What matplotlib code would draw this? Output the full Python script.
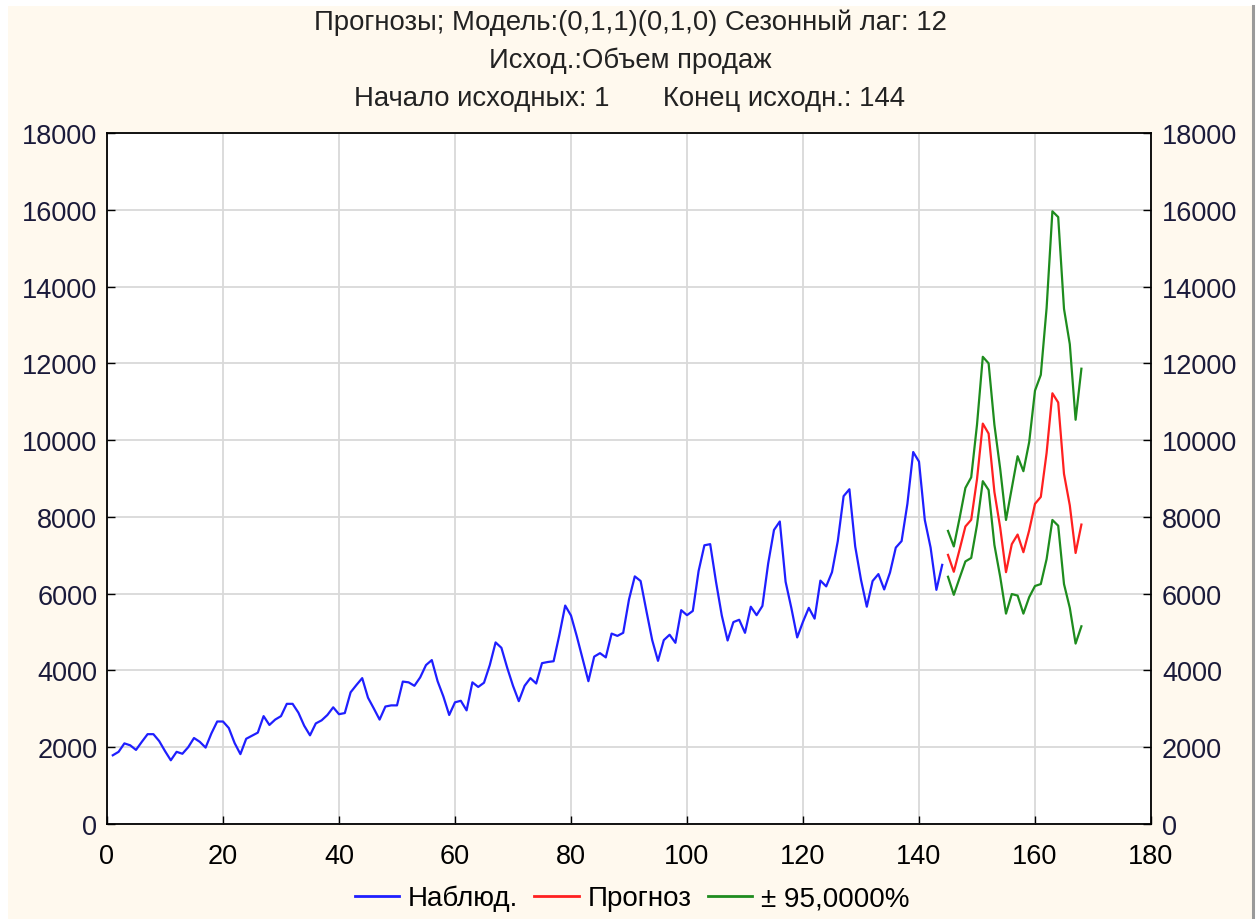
import matplotlib
matplotlib.use("Agg")
import matplotlib.pyplot as plt
from matplotlib.patches import Rectangle
from matplotlib.lines import Line2D

plt.rcParams['font.family'] = ['Liberation Sans', 'DejaVu Sans']

# ---- data ----
observed = [
    1790, 1880, 2100, 2050, 1930, 2140, 2340, 2340, 2160, 1900, 1660, 1880,
    1830, 2000, 2240, 2140, 1990, 2360, 2670, 2670, 2500, 2110, 1820, 2220,
    2300, 2380, 2810, 2580, 2720, 2810, 3130, 3130, 2900, 2560, 2310, 2620,
    2700, 2840, 3040, 2860, 2890, 3430, 3620, 3800, 3290, 3010, 2720, 3060,
    3090, 3090, 3710, 3690, 3600, 3820, 4140, 4270, 3720, 3320, 2840, 3170,
    3210, 2960, 3690, 3570, 3680, 4140, 4730, 4590, 4070, 3600, 3200, 3600,
    3800, 3660, 4190, 4220, 4240, 4930, 5690, 5430, 4890, 4300, 3720, 4360,
    4450, 4340, 4960, 4900, 4980, 5850, 6450, 6330, 5550, 4790, 4250, 4790,
    4930, 4720, 5570, 5440, 5550, 6590, 7260, 7290, 6310, 5430, 4780, 5260,
    5320, 4980, 5660, 5440, 5680, 6790, 7660, 7880, 6310, 5620, 4860, 5270,
    5630, 5350, 6340, 6190, 6560, 7370, 8540, 8720, 7230, 6360, 5660, 6330,
    6510, 6110, 6550, 7200, 7370, 8340, 9690, 9440, 7920, 7200, 6100, 6750,
]
obs_x = list(range(1, len(observed) + 1))

forecast = [
    7010, 6570, 7150, 7750, 7925, 8980, 10430, 10170, 8650, 7720, 6560, 7290,
    7540, 7080, 7650, 8340, 8520, 9665, 11220, 10980, 9120, 8300, 7060, 7800,
]
upper95 = [
    7635, 7230, 7970, 8755, 9030, 10400, 12170, 12000, 10400, 9250, 7920, 8750,
    9580, 9190, 9950, 11290, 11700, 13440, 15960, 15810, 13420, 12500, 10530, 11860,
]
lower95 = [
    6440, 5970, 6410, 6840, 6930, 7790, 8930, 8700, 7270, 6440, 5480, 5990,
    5950, 5480, 5910, 6200, 6250, 6900, 7920, 7770, 6250, 5630, 4700, 5150,
]
fc_x = list(range(145, 145 + len(forecast)))

x_ticks = list(range(0, 181, 20))
y_ticks = list(range(0, 18001, 2000))

title_lines = [
    "Прогнозы; Модель:(0,1,1)(0,1,0) Сезонный лаг: 12",
    "Исход.:Объем продаж",
    "Начало исходных: 1       Конец исходн.: 144",
]
legend_labels = ["Наблюд.", "Прогноз", "± 95,0000%"]

# ---- figure ----
W, H = 1260, 920
fig = plt.figure(figsize=(W / 100, H / 100), dpi=100, facecolor='white')
cream = '#FFF9EE'
fig.patches.append(Rectangle((8 / W, 0), 1244 / W, 913 / H, transform=fig.transFigure,
                             facecolor=cream, edgecolor='none', zorder=-10))
fig.lines.append(Line2D([1253 / W, 1253 / W], [0, 913 / H], transform=fig.transFigure,
                        color='#9a9a9a', lw=2.2, zorder=-9))

ax = fig.add_axes([107 / W, 1 - 825 / H, (1151 - 107) / W, (825 - 134) / H])
ax.set_facecolor('white')

blue = '#1f1fff'
red = '#ff2020'
green = '#1e8c1e'
ax.plot(obs_x, observed, color=blue, lw=1.6)
ax.plot(fc_x, forecast, color=red, lw=1.6)
ax.plot(fc_x, upper95, color=green, lw=1.6)
ax.plot(fc_x, lower95, color=green, lw=1.6)

ax.set_xlim(0, 180)
ax.set_ylim(0, 18000)
ax.set_xticks(x_ticks)
ax.set_yticks(y_ticks)
ax.grid(True, color='#d9d9d9', lw=1.3)
ax.set_axisbelow(True)
for s in ax.spines.values():
    s.set_color('black')
    s.set_linewidth(1.3)
ax.tick_params(direction='in', length=6, width=1, labelsize=19.5, colors='black',
               top=False)
ax.tick_params(axis='x', pad=14)
ax.tick_params(axis='y', labelcolor='#1a1a3a', pad=7)

ax2 = ax.twinx()
ax2.set_ylim(0, 18000)
ax2.set_yticks(y_ticks)
ax2.tick_params(direction='in', length=6, width=1, labelsize=19.5, pad=8,
                labelcolor='#1a1a3a')
for s in ax2.spines.values():
    s.set_visible(False)

# titles
for i, t in enumerate(title_lines):
    fig.text(0.5, 1 - (23 + 38 * i) / H, t, ha='center', va='center', fontsize=19.8,
             color='#222222')

handles = [Line2D([], [], color=c, lw=2) for c in (blue, red, green)]
fig.legend(handles, legend_labels, loc='center', bbox_to_anchor=(632 / W, 1 - 899 / H),
           ncol=3, frameon=False, fontsize=20, handlelength=1.6, handletextpad=0.3,
           columnspacing=0.6)

fig.savefig('out.png', dpi=100, facecolor=fig.get_facecolor())
